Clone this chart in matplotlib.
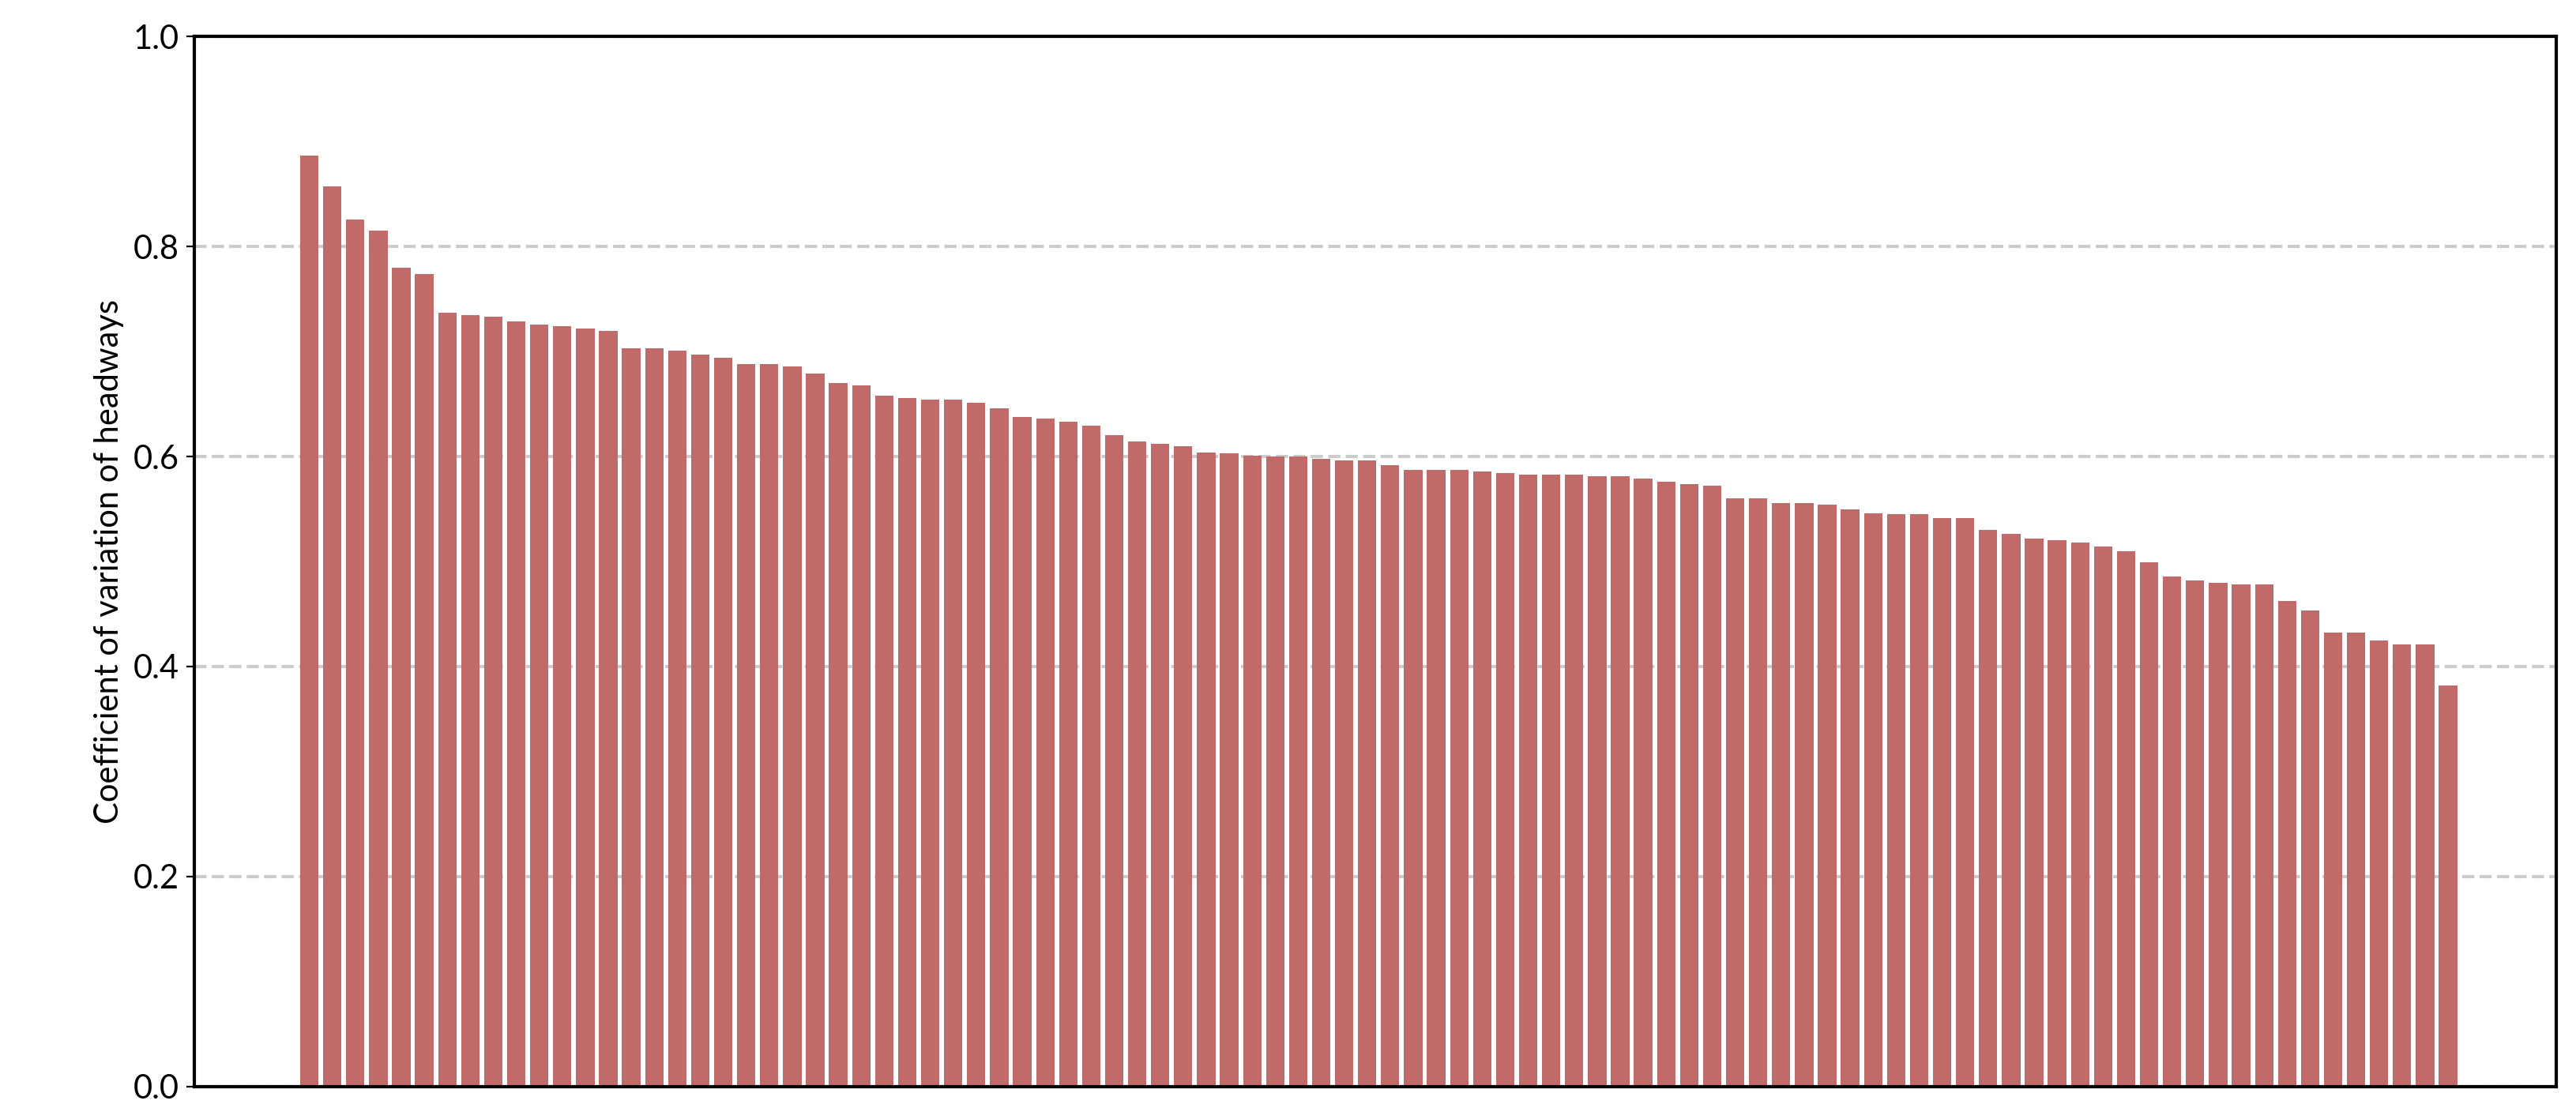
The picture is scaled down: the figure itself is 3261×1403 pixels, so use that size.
import matplotlib
matplotlib.use("Agg")
import matplotlib.pyplot as plt
import numpy as np

# coefficient of variation per route, sorted descending
cv_values = [
    0.887, 0.857, 0.826, 0.815, 0.780, 0.774, 0.737, 0.735, 0.733, 0.729,
    0.726, 0.724, 0.722, 0.720, 0.703, 0.703, 0.701, 0.697, 0.694, 0.688,
    0.688, 0.686, 0.679, 0.670, 0.668, 0.658, 0.656, 0.654, 0.654, 0.651,
    0.646, 0.638, 0.636, 0.633, 0.629, 0.620, 0.614, 0.612, 0.610,
    0.604, 0.603, 0.601, 0.600, 0.600, 0.598, 0.596, 0.596, 0.592, 0.587,
    0.587, 0.587, 0.586, 0.584, 0.583, 0.583, 0.583, 0.581, 0.581, 0.579,
    0.576, 0.574, 0.572, 0.560, 0.560, 0.556, 0.556, 0.554, 0.550,
    0.546, 0.545, 0.545, 0.541, 0.541, 0.530, 0.526, 0.522, 0.520, 0.518,
    0.514, 0.510, 0.499, 0.486, 0.482, 0.480, 0.478, 0.478, 0.462, 0.453,
    0.432, 0.432, 0.425, 0.421, 0.421, 0.382,
]
y_ticks = [0.0, 0.2, 0.4, 0.6, 0.8, 1.0]

plt.rcParams['font.family'] = ['Lato', 'DejaVu Sans']

fig = plt.figure(figsize=(16.31, 7.015), dpi=200)
ax = fig.add_axes([0.0754, 0.0195, 0.9166, 0.9475])

x = np.arange(len(cv_values))
ax.bar(x, cv_values, width=0.8, color='#c06b69', zorder=2)

ax.set_ylim(0, 1.0)
ax.set_xlim(-5, len(cv_values) - 1 + 4.7)
ax.set_yticks(y_ticks)
ax.set_yticklabels([f"{t:.1f}" for t in y_ticks], fontsize=15)
ax.set_xticks([])
ax.set_ylabel("Coefficient of variation of headways", fontsize=15)
ax.yaxis.grid(True, linestyle='--', color='#cccccc', linewidth=1.5, zorder=0)
ax.set_axisbelow(True)
for s in ax.spines.values():
    s.set_linewidth(1.5)

fig.savefig("out.png", dpi=200)
